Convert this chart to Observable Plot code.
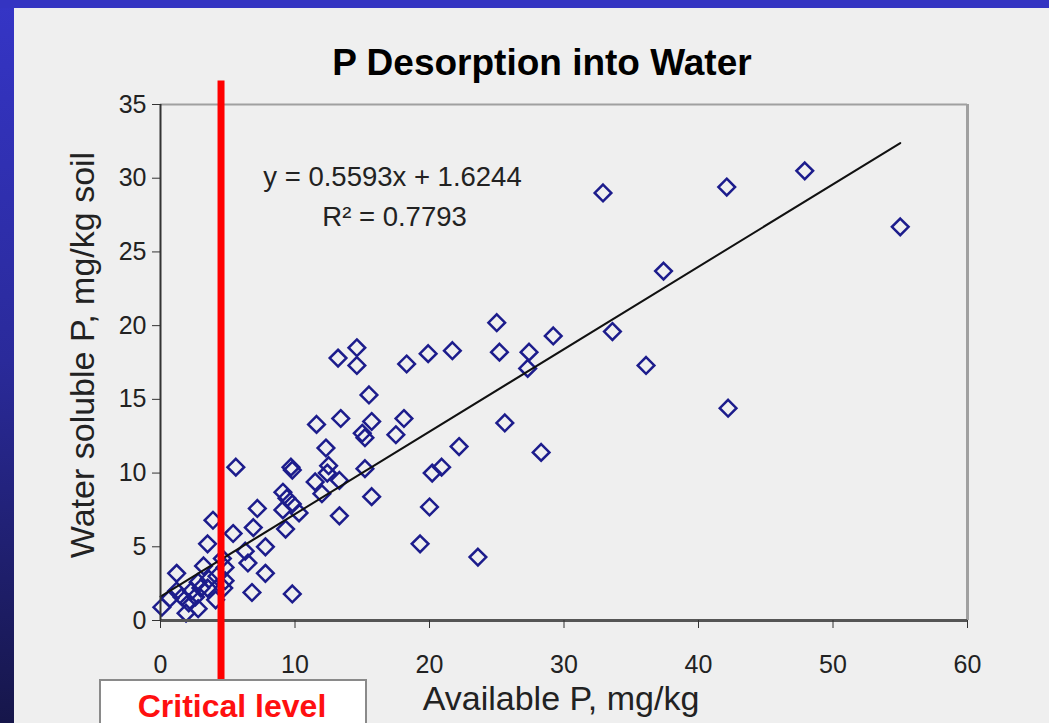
<!DOCTYPE html>
<html><head><meta charset="utf-8">
<script src="https://cdn.jsdelivr.net/npm/d3@7"></script>
<script src="https://cdn.jsdelivr.net/npm/@observablehq/plot@0.6"></script>
<style>
body{margin:0;background:#efefef;}
#wrap{position:relative;width:1049px;height:723px;background:#efefef;overflow:hidden;font-family:"Liberation Sans",Arial,sans-serif;}
#leftbar{position:absolute;left:0;top:0;width:14px;height:723px;background:linear-gradient(#3535c6,#2a2a9a 50%,#16164a);}
#topbar{position:absolute;left:0;top:0;width:1049px;height:8px;background:#3434c2;}
#chart{position:absolute;left:0;top:0;}
#overlay{position:absolute;left:0;top:0;}
#crit{position:absolute;left:99px;top:679px;width:264px;height:60px;background:#fff;border:2px solid #8a8a8a;}
</style></head><body>
<div id="wrap">
  <div id="leftbar"></div><div id="topbar"></div>
  <div id="chart"></div>
  <div id="crit"></div>
  <svg id="overlay" width="1049" height="723"></svg>
</div>
<script>
// Data
const availableP = [55.0,47.9,42.1,32.9,37.4,33.6,36.1,42.2,29.2,27.4,27.3,28.3,25.0,25.2,25.6,23.6,22.2,21.7,19.9,18.3,18.1,17.5,20.9,20.2,20.0,19.3,
  14.6,13.2,14.6,15.5,15.7,15.0,15.2,13.4,11.6,12.3,15.2,15.7,12.5,12.4,11.5,13.3,12.0,13.3,
  9.7,9.8,9.1,9.4,9.8,10.3,9.1,9.3,9.8,
  5.6,7.2,6.9,5.4,6.3,6.5,7.8,7.8,6.8,
  3.9,3.5,3.2,4.8,4.8,4.7,4.1,3.6,3.5,3.0,2.8,2.6,2.8,2.1,1.9,1.6,0.7,1.2,0.1,1.2,2.3,4.2,4.6];
const waterSolubleP = [26.7,30.5,29.4,29.0,23.7,19.6,17.3,14.4,19.3,18.2,17.1,11.4,20.2,18.2,13.4,4.3,11.8,18.3,18.1,17.4,13.7,12.6,10.4,10.0,7.7,5.2,
  18.5,17.8,17.3,15.3,13.5,12.7,12.4,13.7,13.3,11.7,10.3,8.4,10.5,10.0,9.4,9.5,8.6,7.1,
  10.4,10.2,8.7,8.3,7.9,7.3,7.5,6.2,1.8,
  10.4,7.6,6.3,5.9,4.7,3.9,5.0,3.2,1.9,
  6.8,5.2,3.7,3.6,2.7,2.2,1.4,2.8,2.2,2.2,2.6,1.6,0.8,1.2,0.5,1.6,1.5,3.2,0.9,2.0,2.0,3.0,4.2];
const xTicks = [0,10,20,30,40,50,60];
const yTicks = [0,5,10,15,20,25,30,35];
const fitSlope = 0.5593, fitIntercept = 1.6244, fitRange = [0,55];
const criticalLevel = 4.5;
const equationLines = ["y = 0.5593x + 1.6244","R\u00B2 = 0.7793"];
const titleText = "P Desorption into Water";
const xLabel = "Available P, mg/kg";
const yLabel = "Water soluble P, mg/kg soil";
const criticalText = "Critical level";

const points = availableP.map((x,i)=>({x, y: waterSolubleP[i]}));
const fit = fitRange.map(x=>({x, y: fitSlope*x + fitIntercept}));

const plot = Plot.plot({
  width:1049, height:723,
  marginLeft:160, marginRight:82, marginTop:104, marginBottom:103,
  style:{background:"transparent", fontFamily:"'Liberation Sans', Arial, sans-serif", color:"#222", overflow:"visible"},
  x:{domain:[0,60]},
  y:{domain:[0,35]},
  marks:[
    Plot.ruleY([35],{stroke:"#a0a0a0", strokeWidth:2}),
    Plot.ruleX([60],{stroke:"#a0a0a0", strokeWidth:3}),
    Plot.dot(points,{x:"x", y:"y", symbol:"diamond2", r:7.5, stroke:"#1c1c8c", strokeWidth:2.5, fill:"none"}),
    Plot.line(fit,{x:"x", y:"y", stroke:"#111", strokeWidth:2}),
    Plot.ruleY([0],{stroke:"#555", strokeWidth:3}),
    Plot.ruleX([0],{stroke:"#333", strokeWidth:2}),
    Plot.axisX({ticks:xTicks, tickSize:8, tickPadding:27, fontSize:25, label:null, stroke:"#333"}),
    Plot.axisY({ticks:yTicks, tickSize:8, tickPadding:6, fontSize:25, label:null, stroke:"#333"}),
    Plot.text([equationLines[0]],{x:17.25, y:30.05, text:d=>d, fontSize:27.5, fill:"#222"}),
    Plot.text([equationLines[1]],{x:17.4, y:27.35, text:d=>d, fontSize:27.5, fill:"#222"}),
    Plot.ruleX([criticalLevel],{y1:-4.1, y2:36.6, stroke:"#ff0000", strokeWidth:7})
  ]
});
document.getElementById("chart").appendChild(plot);

const ov = d3.select("#overlay").style("font-family","'Liberation Sans', Arial, sans-serif");
ov.append("text").attr("x",542).attr("y",75).attr("text-anchor","middle")
  .attr("font-size",37).attr("font-weight","bold").attr("fill","#000").text(titleText);
ov.append("text").attr("x",561).attr("y",710).attr("text-anchor","middle")
  .attr("font-size",34).attr("fill","#222").text(xLabel);
ov.append("text").attr("transform","translate(94,355) rotate(-90)").attr("text-anchor","middle")
  .attr("font-size",34).attr("fill","#222").text(yLabel);
ov.append("text").attr("x",232).attr("y",717).attr("text-anchor","middle")
  .attr("font-size",32).attr("font-weight","bold").attr("fill","#ff1010").text(criticalText);
</script>
</body></html>
